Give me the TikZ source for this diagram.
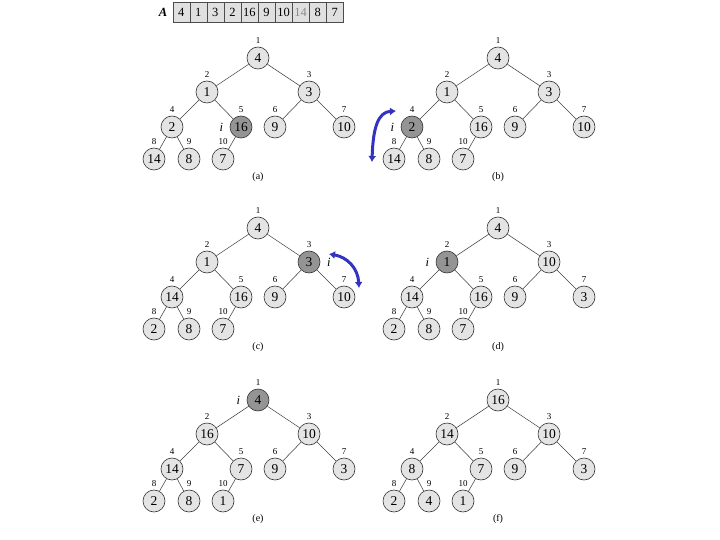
\documentclass[tikz,border=0pt]{standalone}
\usepackage{fontspec}
\setmainfont{Liberation Serif}
\usetikzlibrary{arrows.meta}
\definecolor{nodefill}{RGB}{228,228,228}
\definecolor{darkfill}{RGB}{148,148,148}
\definecolor{arrblue}{RGB}{50,50,195}
\definecolor{cellfill}{RGB}{224,224,224}
\tikzset{
  hnode/.style={circle, draw=black!80, line width=0.6pt, fill=nodefill, minimum size=22pt, inner sep=0pt, font=\fontsize{13.5}{13.5}\selectfont},
  hdark/.style={hnode, fill=darkfill},
  idx/.style={font=\fontsize{9}{9}\selectfont, inner sep=0pt},
  ilab/.style={font=\fontsize{12.5}{12.5}\selectfont, inner sep=3.5pt},
  hedge/.style={draw=black!75, line width=0.55pt},
  captext/.style={font=\fontsize{10}{10}\selectfont, inner sep=0pt},
  cell/.style={rectangle, draw=black!70, fill=cellfill, minimum width=17.06pt, minimum height=20pt, inner sep=0pt, font=\fontsize{12.5}{12.5}\selectfont},
  barrow/.style={draw=arrblue, line width=3pt, {Latex[length=6pt,width=8pt]}-{Latex[length=6pt,width=8pt]}}
}
\newcommand{\heaptree}[5]{%
\begin{scope}[shift={#2}]
\foreach \v [count=\k] in {#3} {
  \pgfmathsetmacro\hx{{0,-51,51,-86,-17,17,86,-104,-69,-35}[\k-1]}
  \pgfmathsetmacro\hy{{0,34,34,69,69,69,69,101,101,101}[\k-1]}
  \ifnum\k=#4\relax
    \tikzset{curst/.style={hdark, label={[ilab]#5:\textit{i}}}}
  \else
    \tikzset{curst/.style={hnode}}
  \fi
  \node[curst, label={[idx]above:\k}] (#1\k) at (\hx,\hy) {\v};
}
\foreach \k in {2,...,10} {
  \pgfmathtruncatemacro\p{floor(\k/2)}
  \draw[hedge] (#1\p) -- (#1\k);
}
\node[captext] (#1cap) at (0,119) {(#1)};
\end{scope}}
\begin{document}
\begin{tikzpicture}[x=1pt, y=-1pt, label distance=3pt]
\useasboundingbox (0,0) rectangle (720,540);
% array
\node[font=\fontsize{12.5}{12.5}\selectfont\bfseries\itshape, inner sep=0pt] (arrA) at (163,12) {A};
\foreach \v [count=\k] in {4,1,3,2,16,9,10,\textcolor{black!45}{14},8,7} {
  \node[cell] (arr\k) at (164.17+17.06*\k, 12) {\v};
}
\heaptree{a}{(258,58)}{4,1,3,2,16,9,10,14,8,7}{5}{left}
\heaptree{b}{(498,58)}{4,1,3,2,16,9,10,14,8,7}{4}{left}
\heaptree{c}{(258,228)}{4,1,3,14,16,9,10,2,8,7}{3}{right}
\heaptree{d}{(498,228)}{4,1,10,14,16,9,3,2,8,7}{2}{left}
\heaptree{e}{(258,400)}{4,16,10,14,7,9,3,2,8,1}{1}{left}
\heaptree{f}{(498,400)}{16,14,10,8,7,9,3,2,4,1}{0}{left}
% swap arrows
\coordinate (bA) at (372,162);
\coordinate (bB) at (396,111);
\draw[barrow] (bA) .. controls (373,128) and (378,112) .. (bB);
\coordinate (cA) at (329,254);
\coordinate (cB) at (359,288);
\draw[barrow] (cA) .. controls (347,257) and (358,268) .. (cB);
\end{tikzpicture}
\end{document}
